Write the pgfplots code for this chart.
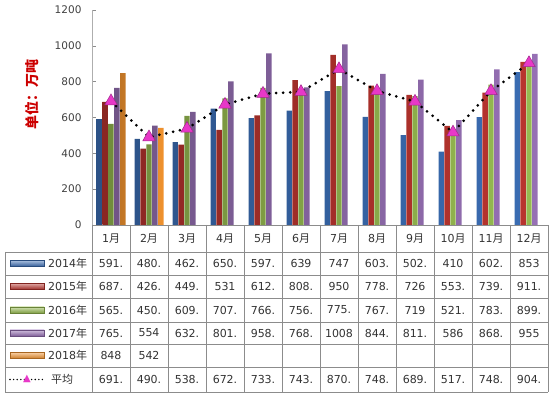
\documentclass[border=0pt]{standalone}
\usepackage{pgfplots}
\pgfplotsset{compat=1.18}
\usepackage{fontspec}
\setmainfont{DejaVu Sans}
\newfontfamily\cjk{Noto Sans CJK SC}
\definecolor{c14}{RGB}{58,108,178}
\definecolor{c15}{RGB}{184,52,46}
\definecolor{c16}{RGB}{150,186,80}
\definecolor{c17}{RGB}{150,112,180}
\definecolor{c18}{RGB}{240,146,46}
\definecolor{mag}{RGB}{232,56,200}
\definecolor{tgray}{RGB}{140,140,140}
\begin{document}
\begin{tikzpicture}
\useasboundingbox (0,0) rectangle (557pt,-395pt);
\begin{axis}[
  at={(92pt,-225pt)}, anchor=south west,
  scale only axis, width=456pt, height=215pt,
  xmin=0.5, xmax=12.5, ymin=0, ymax=1200,
  xtick=\empty, ytick={0,200,...,1200},
  axis lines*=left,
  axis line style={tgray, line width=0.8pt},
  y axis line style={tgray!70!white},
  ytick style={tgray, line width=0.6pt},
  tick align=inside, major tick length=4pt,
  /pgf/number format/1000 sep={},
  /pgf/number format/assume math mode=true,
  yticklabel style={font=\fontsize{10.5}{12}\selectfont, text=black!75, xshift=-7pt},
  clip=false,
]
\addplot[ybar, bar width=5.4pt, bar shift=-11.8pt, draw=none, left color=c14!75!black, middle color=c14!70!white, right color=c14] coordinates {
(1,591)(2,480)(3,462)(4,650)(5,597)(6,639)(7,747)(8,603)(9,502)(10,410)(11,602)(12,853)};
\addplot[ybar, bar width=5.4pt, bar shift=-5.9pt, draw=none, left color=c15!75!black, middle color=c15!70!white, right color=c15] coordinates {
(1,687)(2,426)(3,449)(4,531)(5,612)(6,808)(7,950)(8,778)(9,726)(10,553)(11,739)(12,911)};
\addplot[ybar, bar width=5.4pt, bar shift=0pt, draw=none, left color=c16!75!black, middle color=c16!60!white, right color=c16] coordinates {
(1,565)(2,450)(3,609)(4,707)(5,766)(6,756)(7,775)(8,767)(9,719)(10,521)(11,783)(12,899)};
\addplot[ybar, bar width=5.4pt, bar shift=5.9pt, draw=none, left color=c17!75!black, middle color=c17!60!white, right color=c17] coordinates {
(1,765)(2,554)(3,632)(4,801)(5,958)(6,768)(7,1008)(8,844)(9,811)(10,586)(11,868)(12,955)};
\addplot[ybar, bar width=5.4pt, bar shift=11.8pt, draw=none, left color=c18!80!black, middle color=c18!60!white, right color=c18] coordinates {
(1,848)(2,542)};
\addplot[black, line width=3pt, line cap=round, dash pattern=on 0pt off 7pt,
  mark=triangle*, mark size=7.2pt,
  mark options={solid, line width=0.5pt, fill=mag, draw=mag!70!black}] coordinates {
(1,691)(2,490)(3,538)(4,672)(5,733)(6,743)(7,870)(8,748)(9,689)(10,517)(11,748)(12,904)};
\end{axis}
\begin{scope}[x=1pt, y=-1pt, font=\fontsize{11}{13}\selectfont, text=black!80]
\node[rotate=90, text=red!80!black, font=\cjk\bfseries\fontsize{14}{16}\selectfont] at (32,95) {单位：万吨};
\foreach \y in {252,275,298,322,344,367,392} \draw[tgray, line width=0.7pt] (5,\y) -- (548,\y);
\draw[tgray, line width=0.7pt] (92,225) -- (548,225);
\draw[tgray, line width=0.7pt] (5,252) -- (5,392);
\foreach \k in {0,...,12} \draw[tgray, line width=0.7pt] ({92+38*\k},225) -- ({92+38*\k},392);
\foreach \m in {1,...,12} \node at ({73+38*\m},238.5) {\m\cjk{月}};
\foreach \v [count=\i] in {591.,480.,462.,650.,597.,639,747,603.,502.,410,602.,853}
  \node at ({73+38*\i},263.5) {\v};
\foreach \v [count=\i] in {687.,426.,449.,531,612.,808.,950,778.,726,553.,739.,911.}
  \node at ({73+38*\i},286.5) {\v};
\foreach \v [count=\i] in {565.,450.,609.,707.,766.,756.,775.,767.,719,521.,783.,899.}
  \node at ({73+38*\i},310) {\v};
\foreach \v [count=\i] in {765.,554,632.,801.,958.,768.,1008,844.,811.,586,868.,955}
  \node at ({73+38*\i},333) {\v};
\foreach \v [count=\i] in {848,542}
  \node at ({73+38*\i},355.5) {\v};
\foreach \v [count=\i] in {691.,490.,538.,672.,733.,743.,870.,748.,689.,517.,748.,904.}
  \node at ({73+38*\i},379.5) {\v};
\foreach \c/\yy/\lab in {c14/263.5/2014, c15/286.5/2015, c16/310/2016, c17/333/2017, c18/355.5/2018} {
  \shade[top color=\c!45!white, bottom color=\c!85!black, draw=\c!70!black, line width=0.4pt] (10,\yy-3) rectangle (44,\yy+3);
  \node[anchor=west, inner sep=0pt] at (48,\yy) {\lab\cjk{年}};
}
\draw[black, line width=1.6pt, line cap=round, dash pattern=on 0pt off 3.6pt] (10,379.5) -- (44,379.5);
\node[text=mag, font=\fontsize{10}{12}\selectfont, inner sep=0pt] at (27,378.5) {▲};
\node[anchor=west, inner sep=0pt] at (51,379.5) {\cjk{平均}};
\end{scope}
\end{tikzpicture}
\end{document}
